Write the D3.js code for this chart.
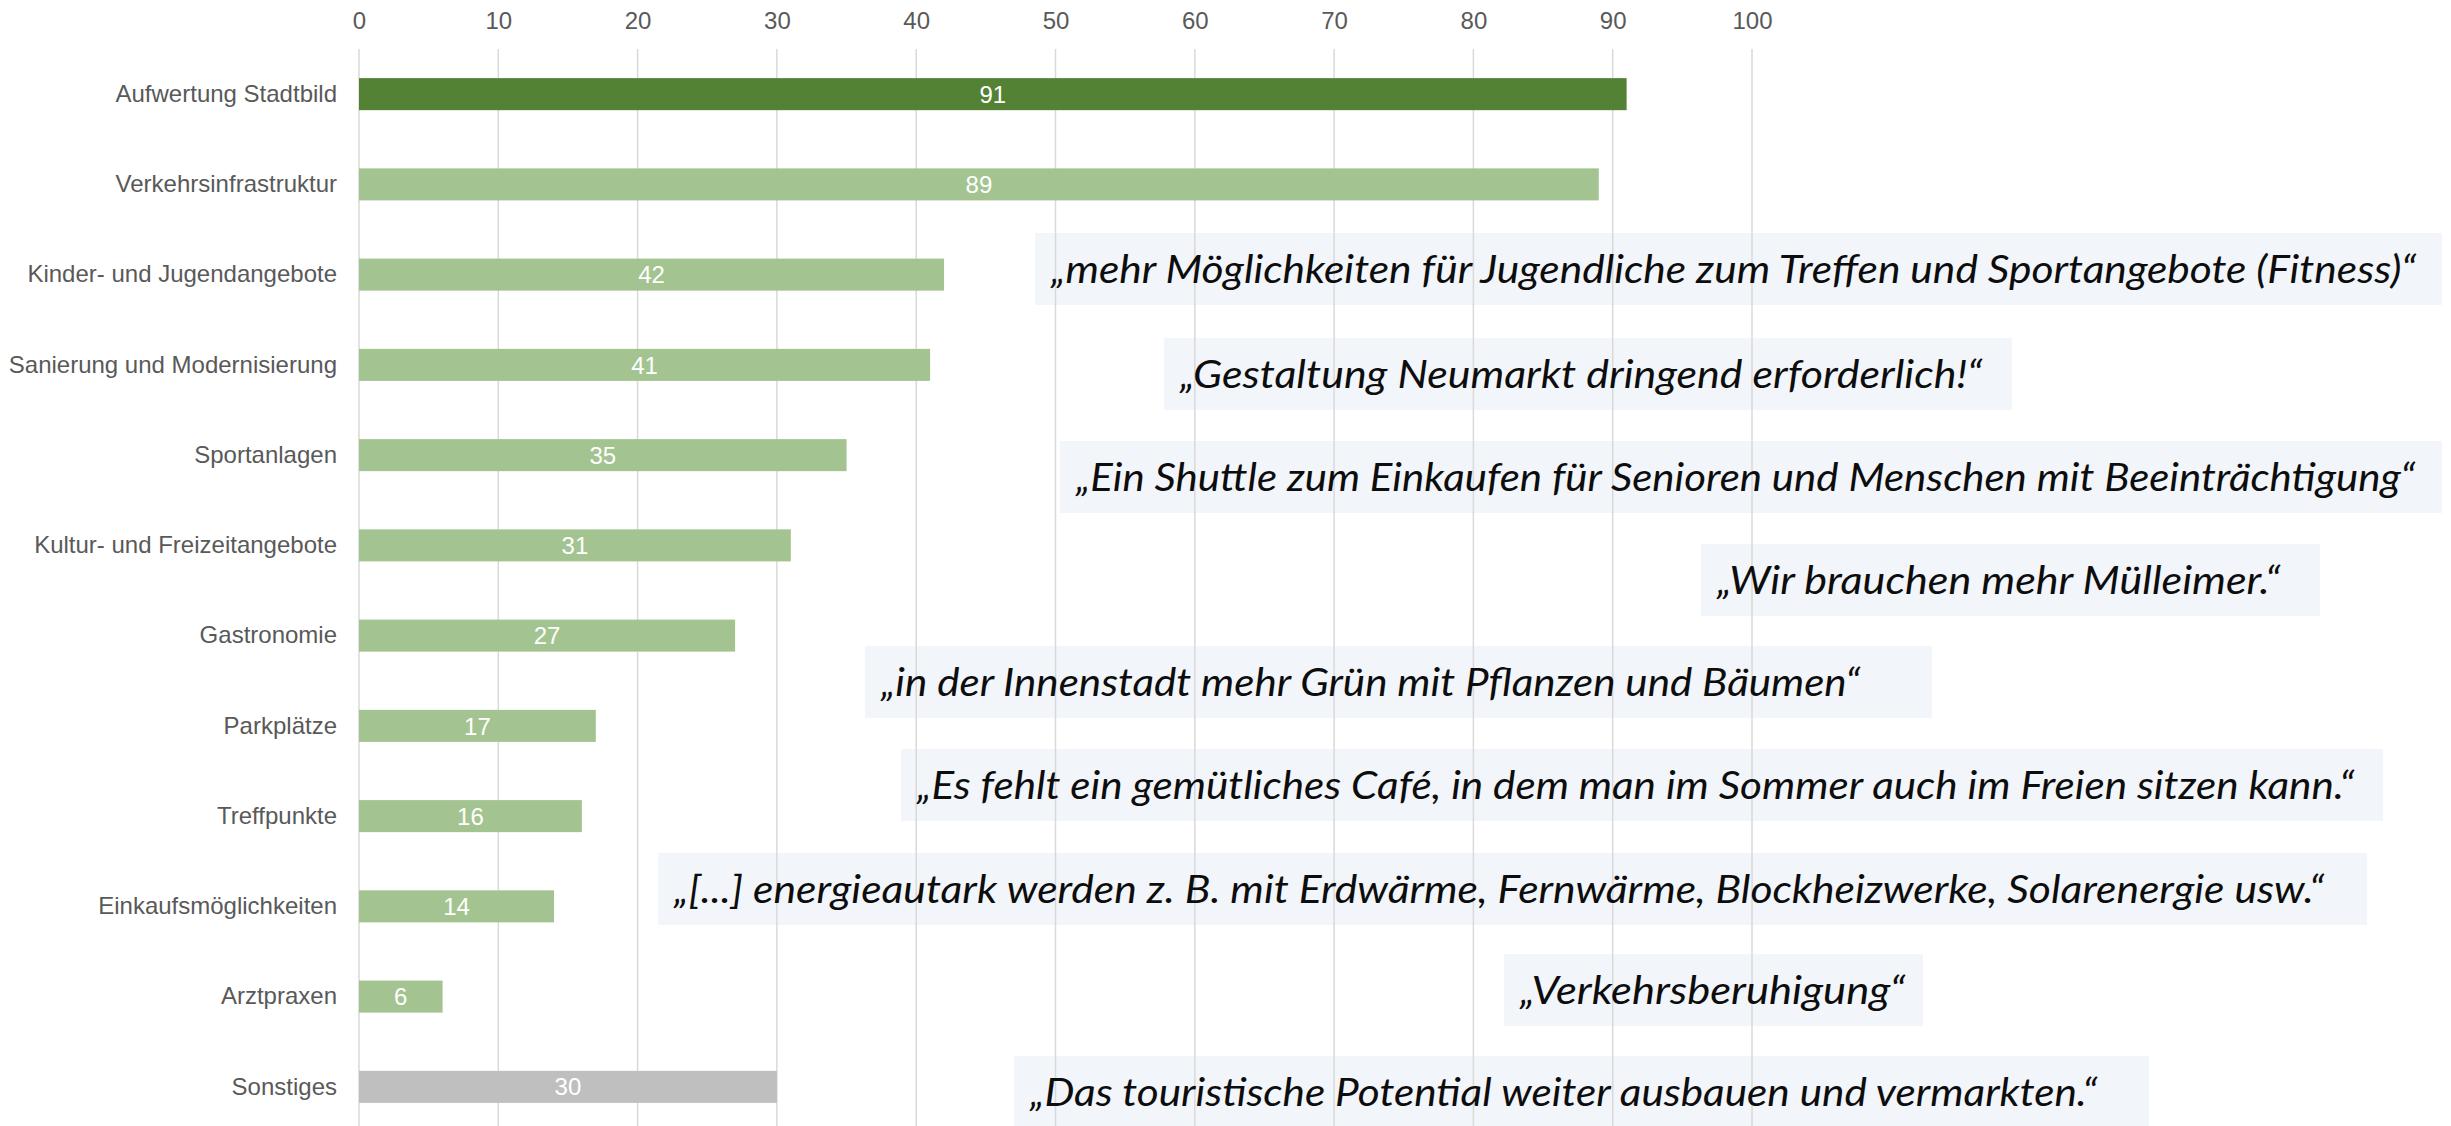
<!DOCTYPE html>
<html lang="de">
<head>
<meta charset="utf-8">
<title>Handlungsbedarf</title>
<script src="https://cdn.jsdelivr.net/npm/d3@7"></script>
<style>
    body { margin: 0; background: #fff; }
    svg { display: block; }
</style>
</head>
<body>
<script>
"use strict";
(function(){
    // categories, top to bottom
    const categories = [
        "Aufwertung Stadtbild",
        "Verkehrsinfrastruktur",
        "Kinder- und Jugendangebote",
        "Sanierung und Modernisierung",
        "Sportanlagen",
        "Kultur- und Freizeitangebote",
        "Gastronomie",
        "Parkplätze",
        "Treffpunkte",
        "Einkaufsmöglichkeiten",
        "Arztpraxen",
        "Sonstiges"
    ]
    // number of mentions per category
    const mentions = [91, 89, 42, 41, 35, 31, 27, 17, 16, 14, 6, 30]
    const tickValues = [0, 10, 20, 30, 40, 50, 60, 70, 80, 90, 100]

    // quotes from the survey
    const quotes = [
        "„mehr Möglichkeiten für Jugendliche zum Treffen und Sportangebote (Fitness)“",
        "„Gestaltung Neumarkt dringend erforderlich!“",
        "„Ein Shuttle zum Einkaufen für Senioren und Menschen mit Beeinträchtigung“",
        "„Wir brauchen mehr Mülleimer.“",
        "„in der Innenstadt mehr Grün mit Pflanzen und Bäumen“",
        "„Es fehlt ein gemütliches Café, in dem man im Sommer auch im Freien sitzen kann.“",
        "„[...] energieautark werden z. B. mit Erdwärme, Fernwärme, Blockheizwerke, Solarenergie usw.“",
        "„Verkehrsberuhigung“",
        "„Das touristische Potential weiter ausbauen und vermarkten.“"
    ]

    // dimensions for svg
    const measurements = {
        width: 2451,
        height: 1126,
        plotLeft: 359,
        plotRight: 1752,
        gridTop: 49,
        bandTop: 33,
        bandBottom: 1148
    }

    // where the quote boxes sit (pixels), same order as quotes
    const quoteBoxes = [
        { x: 1035, y: 233, w: 1407, textWidth: 1365 },
        { x: 1164, y: 338, w: 848, textWidth: 802 },
        { x: 1060, y: 441, w: 1382, textWidth: 1339 },
        { x: 1701, y: 544, w: 619, textWidth: 563 },
        { x: 865, y: 646, w: 1067, textWidth: 979 },
        { x: 901, y: 749, w: 1482, textWidth: 1437 },
        { x: 658, y: 853, w: 1709, textWidth: 1650 },
        { x: 1504, y: 954, w: 419, textWidth: 385 },
        { x: 1014, y: 1056, w: 1135, textWidth: 1067 }
    ]
    const boxHeight = 72

    const colors = {
        top: "#548235",
        normal: "#a3c490",
        other: "#bfbfbf",
        grid: "#d9d9d9",
        label: "#595959",
        box: "#f2f5fa"
    }
    const axisFont = 'Liberation Sans, Arial, sans-serif'

    const svgContainer = d3.select('body').append("svg")
        .attr('width', measurements.width)
        .attr('height', measurements.height)
        .style('background', '#fff')

    const data = categories.map((c, i) => ({ category: c, value: mentions[i] }))

    // scales
    const scaleX = d3.scaleLinear()
        .domain([0, 100])
        .range([measurements.plotLeft, measurements.plotRight])
    const scaleY = d3.scaleBand()
        .domain(categories)
        .range([measurements.bandTop, measurements.bandBottom])
        .paddingInner(0.645)
        .paddingOuter(0.5)

    drawQuoteBoxes()
    drawAxes(scaleX, scaleY)
    plotData(scaleX, scaleY)
    drawQuotes()

    function barColor(d, i) {
        if (i === 0) return colors.top
        if (d.category === "Sonstiges") return colors.other
        return colors.normal
    }

    function drawQuoteBoxes() {
        svgContainer.append('g')
            .selectAll('rect')
            .data(quoteBoxes)
            .enter()
            .append('rect')
                .attr('x', d => d.x)
                .attr('y', d => d.y)
                .attr('width', d => d.w)
                .attr('height', boxHeight)
                .attr('fill', colors.box)
    }

    function drawAxes(scaleX, scaleY) {
        // top axis, labels only, gridlines run down the whole plot
        const xAxis = d3.axisTop(scaleX)
            .tickValues(tickValues)
            .tickSize(0)
            .tickPadding(0)
        const gx = svgContainer.append('g')
            .attr('transform', 'translate(0,29)')
            .call(xAxis)
        gx.select('.domain').remove()
        gx.selectAll('text')
            .attr('font-family', axisFont)
            .attr('font-size', 24)
            .attr('fill', colors.label)
            .attr('dy', 0)

        svgContainer.append('g')
            .selectAll('line')
            .data(tickValues)
            .enter()
            .append('line')
                .attr('x1', d => scaleX(d))
                .attr('x2', d => scaleX(d))
                .attr('y1', measurements.gridTop)
                .attr('y2', measurements.height)
                .attr('stroke', colors.grid)
                .attr('stroke-width', 1.5)

        // category labels on the left
        const yAxis = d3.axisLeft(scaleY)
            .tickSize(0)
            .tickPadding(22)
        const gy = svgContainer.append('g')
            .attr('transform', `translate(${measurements.plotLeft},0)`)
            .call(yAxis)
        gy.select('.domain').remove()
        gy.selectAll('text')
            .attr('font-family', axisFont)
            .attr('font-size', 24)
            .attr('fill', colors.label)
    }

    function plotData(scaleX, scaleY) {
        const bars = svgContainer.append('g')
        bars.selectAll('rect')
            .data(data)
            .enter()
            .append('rect')
                .attr('x', scaleX(0))
                .attr('y', d => scaleY(d.category))
                .attr('width', d => scaleX(d.value) - scaleX(0))
                .attr('height', scaleY.bandwidth())
                .attr('fill', barColor)

        // value labels in the middle of each bar
        bars.selectAll('text')
            .data(data)
            .enter()
            .append('text')
                .attr('x', d => scaleX(d.value / 2))
                .attr('y', d => scaleY(d.category) + scaleY.bandwidth() / 2)
                .attr('dy', '0.36em')
                .attr('text-anchor', 'middle')
                .attr('font-family', axisFont)
                .attr('font-size', 24)
                .attr('fill', '#ffffff')
                .text(d => d.value)
    }

    function drawQuotes() {
        svgContainer.append('g')
            .selectAll('text')
            .data(quotes)
            .enter()
            .append('text')
                .attr('x', (d, i) => quoteBoxes[i].x + 16)
                .attr('y', (d, i) => quoteBoxes[i].y + 50)
                .attr('textLength', (d, i) => quoteBoxes[i].textWidth)
                .attr('lengthAdjust', 'spacingAndGlyphs')
                .attr('font-family', 'Lato, "Open Sans", sans-serif')
                .attr('font-style', 'italic')
                .attr('font-size', 38)
                .attr('fill', '#0d0d0d')
                .text(d => d)
    }
})()
</script>
</body>
</html>
